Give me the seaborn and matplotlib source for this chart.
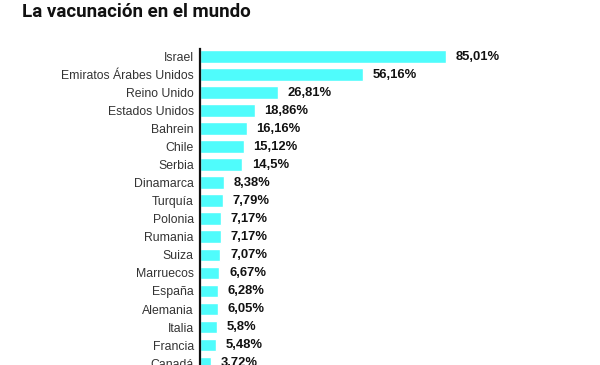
import matplotlib
matplotlib.use("Agg")
import matplotlib.pyplot as plt
import seaborn as sns
import pandas as pd

paises = ["Israel", "Emiratos Árabes Unidos", "Reino Unido", "Estados Unidos",
          "Bahrein", "Chile", "Serbia", "Dinamarca", "Turquía", "Polonia",
          "Rumania", "Suiza", "Marruecos", "España", "Alemania", "Italia",
          "Francia", "Canadá"]
valores = [85.01, 56.16, 26.81, 18.86, 16.16, 15.12, 14.5, 8.38, 7.79, 7.17,
           7.17, 7.07, 6.67, 6.28, 6.05, 5.8, 5.48, 3.72]
etiquetas = ["85,01%", "56,16%", "26,81%", "18,86%", "16,16%", "15,12%", "14,5%",
             "8,38%", "7,79%", "7,17%", "7,17%", "7,07%", "6,67%", "6,28%",
             "6,05%", "5,8%", "5,48%", "3,72%"]

df = pd.DataFrame({"pais": paises, "valor": valores})

sns.set_theme(style="white")
plt.rcParams["font.family"] = ["Liberation Sans", "DejaVu Sans"]

W, H = 600, 365
fig = plt.figure(figsize=(W / 100, H / 100), dpi=100)
ax = fig.add_axes([200 / W, 0, 390 / W, (365 - 49) / H])

sns.barplot(data=df, x="valor", y="pais", orient="h", color="#4ffcfc",
            saturation=1, width=0.72, ax=ax)

ax.set_xlim(0, 390 / 2.894)
ax.set_ylim(17.11, -0.44)
ax.set_xlabel("")
ax.set_ylabel("")
ax.set_xticks([])
for s in ["top", "right", "bottom"]:
    ax.spines[s].set_visible(False)
ax.spines["left"].set_color("#111111")
ax.spines["left"].set_linewidth(1.6)
ax.tick_params(axis="y", length=0, pad=4.5, labelsize=8.8, labelcolor="#333333")

for i, (v, t) in enumerate(zip(valores, etiquetas)):
    ax.annotate(t, xy=(v, i), xytext=(7, 0), textcoords="offset points",
                ha="left", va="center", fontsize=9.4, fontweight="bold",
                color="#111111")

fig.text(22 / W, 1 - 17 / H, "La vacunación en el mundo", fontsize=13.5,
         fontweight="bold", color="#111111", ha="left", va="baseline",
         family=["Roboto", "DejaVu Sans"])

fig.savefig("out.png", dpi=100)
